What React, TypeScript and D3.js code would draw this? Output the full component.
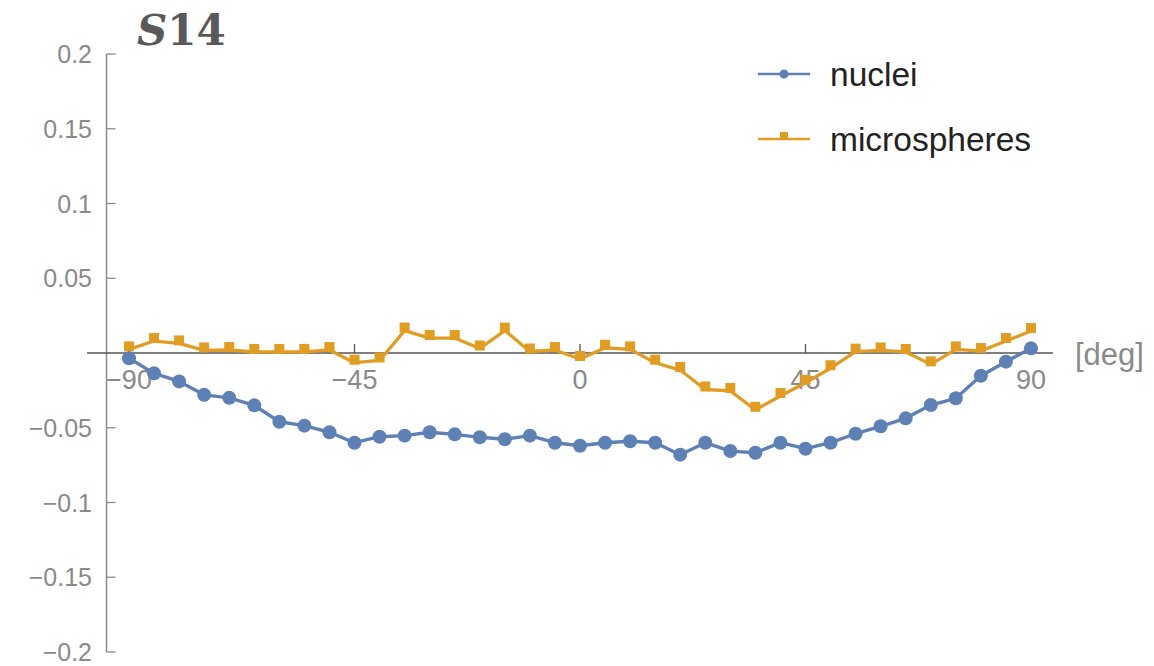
import React from "react";
import * as d3 from "d3";

const angles: number[] = [-90,-85,-80,-75,-70,-65,-60,-55,-50,-45,-40,-35,-30,-25,-20,-15,-10,-5,0,5,10,15,20,25,30,35,40,45,50,55,60,65,70,75,80,85,90];
const nuclei: number[] = [-0.0035,-0.0136,-0.019,-0.028,-0.030,-0.035,-0.046,-0.0486,-0.053,-0.060,-0.056,-0.0553,-0.053,-0.0544,-0.0564,-0.0577,-0.0553,-0.060,-0.062,-0.060,-0.059,-0.060,-0.068,-0.060,-0.0656,-0.0667,-0.060,-0.064,-0.060,-0.054,-0.049,-0.0437,-0.0348,-0.0303,-0.0152,-0.0058,0.0031];
const microspheres: number[] = [0.0024,0.008,0.0064,0.0017,0.002,0.0007,0.0007,0.0007,0.002,-0.0065,-0.005,0.015,0.010,0.010,0.003,0.015,0.001,0.002,-0.004,0.0035,0.0024,-0.0065,-0.0114,-0.0244,-0.0254,-0.038,-0.0288,-0.0199,-0.0102,0.0009,0.0017,0.0007,-0.0076,0.0024,0.0013,0.008,0.0147];
const xTicks: number[] = [-90,-45,0,45,90];
const yTicks: number[] = [-0.2,-0.15,-0.1,-0.05,0.05,0.1,0.15,0.2];
const yTickLabels: string[] = ["−0.2","−0.15","−0.1","−0.05","0.05","0.1","0.15","0.2"];
const xTickLabels: string[] = ["−90","−45","0","45","90"];
const seriesNames: string[] = ["nuclei","microspheres"];
const title = "S14";
const xUnit = "[deg]";

const BLUE = "#5e81b5";
const ORANGE = "#e19c24";

export default function App() {
  const W = 1154, H = 666;
  const x = d3.scaleLinear().domain([-90, 90]).range([129, 1031]);
  const y = d3.scaleLinear().domain([-0.2, 0.2]).range([652, 54]);
  const line = d3.line<number>().x((_, i) => x(angles[i])).y((d) => y(d));
  const axisY0 = y(0);
  const yAxisX = 106.5;
  const font = "'Liberation Sans', Arial, sans-serif";
  return (
    <svg width={W} height={H} style={{ position: "absolute", left: 0, top: 0, background: "#fff" }}>
      {/* title */}
      <text x={137} y={45} fontFamily="'DejaVu Serif', 'Liberation Serif', serif" fontWeight="bold" fontSize={42} fill="#595959">
        <tspan fontStyle="italic">{title.slice(0, 1)}</tspan>
        <tspan>{title.slice(1)}</tspan>
      </text>
      {/* y axis */}
      <line x1={yAxisX} x2={yAxisX} y1={y(0.2)} y2={y(-0.2)} stroke="#8a8a8a" strokeWidth={1.5} />
      {yTicks.map((t, i) => (
        <g key={t}>
          <line x1={yAxisX} x2={yAxisX + 9} y1={y(t)} y2={y(t)} stroke="#8a8a8a" strokeWidth={1.3} />
          <text x={92} y={y(t)} dy="0.36em" textAnchor="end" fontFamily={font} fontSize={25} fill="#8a8a8a">
            {yTickLabels[i]}
          </text>
        </g>
      ))}
      {/* x axis */}
      <line x1={87} x2={1053} y1={axisY0} y2={axisY0} stroke="#555" strokeWidth={1.5} />
      {xTicks.map((t, i) => (
        <g key={t}>
          <line x1={x(t)} x2={x(t)} y1={axisY0} y2={axisY0 - 9} stroke="#555" strokeWidth={1.3} />
          <text x={x(t)} y={389} textAnchor="middle" fontFamily={font} fontSize={27} fill="#8a8a8a">
            {xTickLabels[i]}
          </text>
        </g>
      ))}
      <text x={1075} y={354} dy="0.35em" fontFamily={font} fontSize={31} fill="#8a8a8a">{xUnit}</text>
      {/* microspheres */}
      <path d={line(microspheres) || ""} fill="none" stroke={ORANGE} strokeWidth={3.3} strokeLinejoin="round" />
      {microspheres.map((v, i) => (
        <rect key={i} x={x(angles[i]) - 5} y={y(v) - 3 - 5} width={10} height={10} fill={ORANGE} />
      ))}
      {/* nuclei */}
      <path d={line(nuclei) || ""} fill="none" stroke={BLUE} strokeWidth={3.4} strokeLinejoin="round" />
      {nuclei.map((v, i) => (
        <circle key={i} cx={x(angles[i])} cy={y(v)} r={7} fill={BLUE} />
      ))}
      {/* legend */}
      <g>
        <line x1={758} x2={810} y1={74} y2={74} stroke={BLUE} strokeWidth={2.5} />
        <circle cx={784} cy={74} r={4.5} fill={BLUE} />
        <text x={830} y={74} dy="0.35em" fontFamily={font} fontSize={33.5} fill="#222">{seriesNames[0]}</text>
        <line x1={758} x2={810} y1={139} y2={139} stroke={ORANGE} strokeWidth={2.5} />
        <rect x={780} y={132} width={8} height={7} fill={ORANGE} />
        <text x={830} y={139} dy="0.35em" fontFamily={font} fontSize={33.5} fill="#222">{seriesNames[1]}</text>
      </g>
    </svg>
  );
}
